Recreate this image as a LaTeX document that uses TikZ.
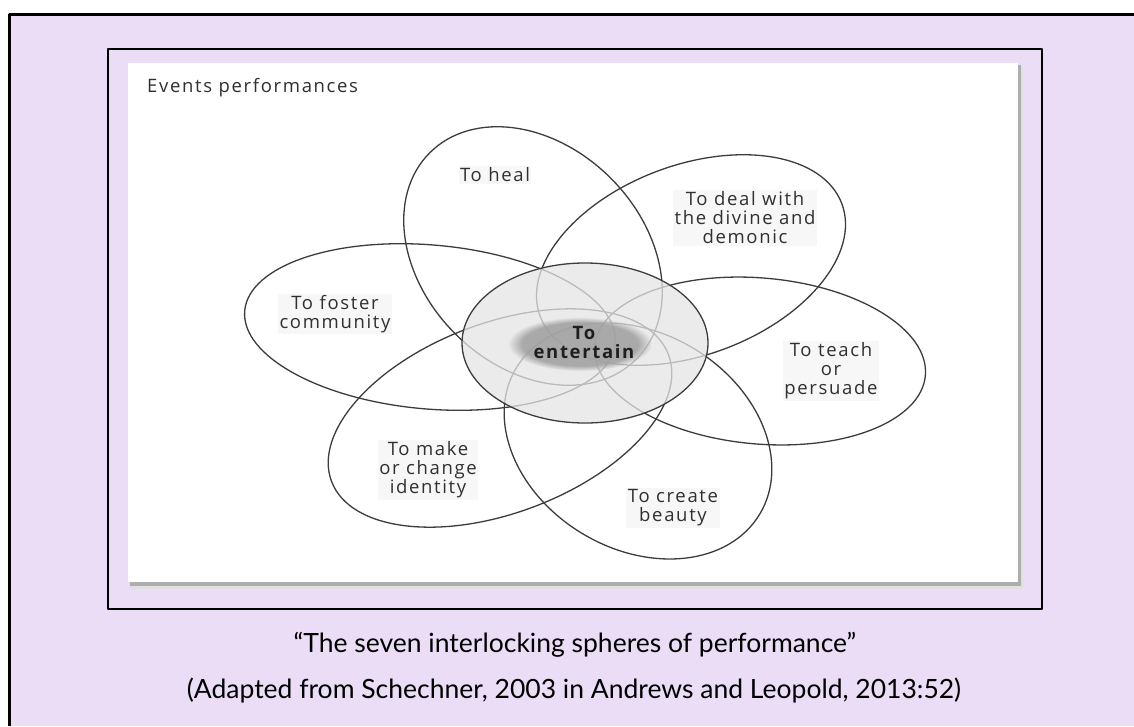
\documentclass[tikz,border=0pt]{standalone}
\usepackage{fontspec}
\setmainfont{Lato}
\newfontfamily\petalfont[LetterSpace=9]{Open Sans}
\usetikzlibrary{fadings}

\definecolor{lilac}{RGB}{235,221,246}
\definecolor{inkgray}{RGB}{48,48,48}
\definecolor{petalline}{RGB}{60,60,60}

\tikzset{
  petal/.style={draw=petalline, line width=1.3pt},
  petallabel/.style={text=inkgray, align=center, fill=black!3, inner sep=1.5pt,
    font=\petalfont\fontsize{18.5}{19}\selectfont},
  captionline/.style={font=\fontsize{26.5}{30}\selectfont}
}

\begin{document}
\begin{tikzpicture}[x=1pt, y=-1pt, line join=round]
	\useasboundingbox (0,0) rectangle (1134,726);
	
	% --- lilac panel, ruled on the left and on top ---
	\fill[lilac] (9,14) rectangle (1134,726);
	\draw[line width=3pt] (9.5,726) -- (9.5,14.5) -- (1134,14.5);
	
	% --- framed figure: white card with a soft shadow ---
	\draw[line width=2pt, fill=lilac] (108,49) rectangle (1042,609);
	\fill[black!12] (131,66) rectangle (1023,589);
	\fill[black!32] (130,65) rectangle (1021,586);
	\fill[white] (128,63) rectangle (1018,582);
	
	\node[anchor=west, text=inkgray, inner sep=0pt,
	font=\petalfont\fontsize{18.5}{19}\selectfont] (title) at (147,88) {Events performances};
	
	% --- six petals (centre x / centre y / half length / half width / tilt) ---
	\foreach \cx/\cy/\a/\b/\rot in {533/256/146/110/-45, 691/260/161/95/20.4,
		760/361/166/83/-5, 638/441/142/108/-31, 500/418/180/95/20.6, 430/327/186/82/-5}
	\draw[petal, rotate around={\rot:(\cx,\cy)}] (\cx,\cy) ellipse ({\a pt} and {\b pt});
	
	% --- central sphere, shaded over the petals ---
	\fill[black!10, opacity=0.75] (585,343) ellipse (123pt and 80pt);
	\fill[black!38, opacity=0.85, path fading=circle with fuzzy edge 20 percent]
	(580,344) ellipse (72pt and 27pt);
	\draw[petal] (585,343) ellipse (123pt and 80pt);
	
	% --- labels ---
	\node[petallabel] (heal) at (495,175) {To heal};
	\node[petallabel] (deal) at (745,218) {To deal with\\the divine and\\demonic};
	\node[petallabel] (foster) at (335,314) {To foster\\community};
	\node[petallabel] (teach) at (831,371) {To teach\\or\\persuade};
	\node[petallabel] (beauty) at (673,508) {To create\\beauty};
	\node[petallabel] (identity) at (428,470) {To make\\or change\\identity};
	\node[petallabel, fill=none, text=black!88, font=\petalfont\bfseries\fontsize{18.5}{19}\selectfont]
	(entertain) at (584,342) {To\\entertain};
	
	% --- caption ---
	\node[captionline] (capmain) at (575,645)
	{“The seven interlocking spheres of performance”};
	\node[captionline] (capsource) at (574,690)
	{(Adapted from Schechner, 2003 in Andrews and Leopold, 2013:52)};
	
\end{tikzpicture}
\end{document}
